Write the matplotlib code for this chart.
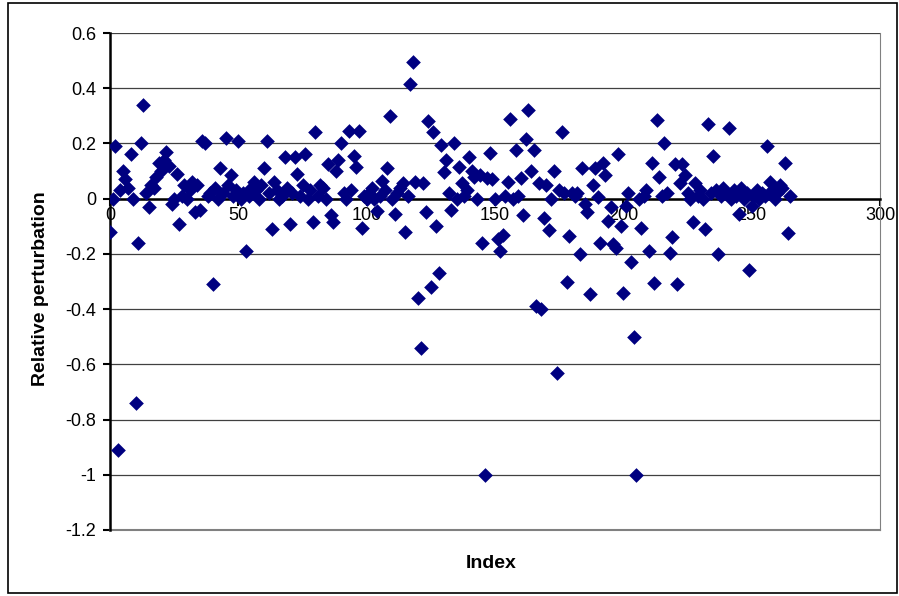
import matplotlib.pyplot as plt
import numpy as np
from matplotlib.patches import Rectangle

plt.rcParams['font.family'] = ['Liberation Sans', 'DejaVu Sans']

# relative perturbation per index (index 0..265)
perturb = [
    -0.12, 0.00, 0.19, -0.91, 0.03, 0.10, 0.07, 0.04, 0.16, 0.00,
    -0.74, -0.16, 0.20, 0.34, 0.02, -0.03, 0.05, 0.04, 0.08, 0.13,
    0.10, 0.14, 0.17, 0.12, -0.02, 0.00, 0.09, -0.09, 0.01, 0.05,
    0.00, 0.03, 0.06, -0.05, 0.05, -0.04, 0.21, 0.20, 0.01, 0.02,
    -0.31, 0.04, 0.00, 0.11, 0.02, 0.22, 0.05, 0.085, 0.01, 0.03,
    0.21, 0.00, 0.02, -0.19, 0.01, 0.04, 0.06, 0.03, 0.00, 0.05,
    0.11, 0.21, 0.02, -0.11, 0.06, 0.03, 0.00, 0.01, 0.15, 0.04,
    -0.09, 0.02, 0.15, 0.09, 0.01, 0.05, 0.16, 0.00, 0.03, -0.085,
    0.24, 0.01, 0.05, 0.04, 0.00, 0.125, -0.06, -0.085, 0.10, 0.14,
    0.20, 0.02, 0.00, 0.245, 0.03, 0.155, 0.115, 0.245, -0.105, 0.01,
    0.00, 0.02, 0.04, 0.00, -0.045, 0.01, 0.065, 0.03, 0.11, 0.30,
    0.00, -0.055, 0.02, 0.04, 0.055, -0.12, 0.01, 0.415, 0.495, 0.06,
    -0.36, -0.54, 0.055, -0.05, 0.28, -0.32, 0.24, -0.10, -0.27, 0.195,
    0.095, 0.14, 0.02, -0.04, 0.20, 0.00, 0.115, 0.055, 0.01, 0.03,
    0.15, 0.10, 0.08, 0.00, 0.085, -0.16, -1.00, 0.075, 0.165, 0.07,
    0.00, -0.145, -0.19, -0.13, 0.01, 0.06, 0.29, 0.00, 0.175, 0.01,
    0.075, -0.06, 0.215, 0.32, 0.10, 0.175, -0.39, 0.055, -0.40, -0.07,
    0.05, -0.115, 0.00, 0.10, -0.63, 0.03, 0.24, 0.02, -0.30, -0.135,
    0.02, 0.01, 0.02, -0.20, 0.11, -0.02, -0.05, -0.345, 0.05, 0.11,
    0.005, -0.16, 0.13, 0.085, -0.08, -0.03, -0.165, -0.18, 0.16, -0.10,
    -0.34, -0.025, 0.02, -0.23, -0.50, -1.00, 0.00, -0.105, 0.01, 0.03,
    -0.19, 0.13, -0.305, 0.285, 0.08, 0.01, 0.20, 0.02, -0.195, -0.14,
    0.125, -0.31, 0.055, 0.125, 0.085, 0.02, 0.00, -0.085, 0.055, 0.01,
    0.03, 0.00, -0.11, 0.27, 0.02, 0.155, 0.03, -0.20, 0.01, 0.04,
    0.02, 0.255, 0.00, 0.03, 0.01, -0.055, 0.04, 0.00, 0.02, -0.26,
    -0.025, 0.01, 0.03, 0.00, 0.02, 0.01, 0.19, 0.06, 0.03, 0.00,
    0.02, 0.05, 0.04, 0.13, -0.125, 0.01,
]
index = np.arange(len(perturb))

x_ticks = [0, 50, 100, 150, 200, 250, 300]
y_ticks = [0.6, 0.4, 0.2, 0, -0.2, -0.4, -0.6, -0.8, -1, -1.2]

fig = plt.figure(figsize=(8.99, 5.96), dpi=100)
ax = fig.add_axes([110/899, 1 - 530/596, 770/899, 497/596])

ax.scatter(index, perturb, marker='D', s=56, color='#000080', zorder=3, linewidths=0)

ax.set_xlim(0, 300)
ax.set_ylim(-1.2, 0.6)
ax.set_xticks(x_ticks)
ax.set_xticklabels([str(t) for t in x_ticks])
ax.set_yticks(y_ticks)
ax.set_yticklabels([('%g' % t) for t in y_ticks])

ax.grid(axis='y', color='#404040', linewidth=0.9)
ax.set_axisbelow(True)

ax.spines['bottom'].set_position(('data', 0))
ax.spines['bottom'].set_linewidth(1.8)
ax.spines['left'].set_linewidth(1.8)
ax.spines['top'].set_visible(False)
ax.spines['right'].set_color('#808080')
ax.axhline(-1.2, color='#808080', linewidth=1.5, zorder=1, clip_on=False)

ax.tick_params(axis='both', direction='out', length=5, width=1.5, labelsize=13)
ax.tick_params(axis='x', pad=1)
ax.tick_params(axis='y', pad=5)

fig.text(491/899, 1 - 563/596, 'Index', ha='center', va='center',
         fontsize=14, fontweight='bold')
fig.text(41/899, 1 - 289/596, 'Relative perturbation', ha='center', va='center',
         rotation=90, fontsize=14, fontweight='bold')

fig.patches.append(Rectangle((8/899, 3/596), 889/899, 590/596, transform=fig.transFigure,
                             fill=False, edgecolor='black', linewidth=1.2))

plt.savefig('out.png', dpi=100)
